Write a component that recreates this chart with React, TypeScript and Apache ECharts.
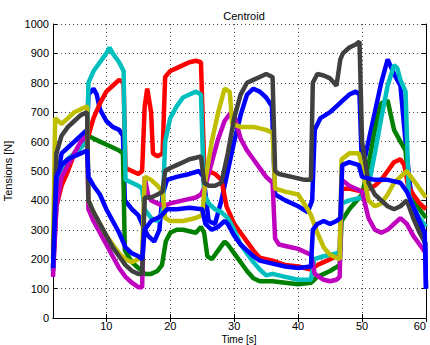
import React, { useEffect, useRef } from "react";
import * as echarts from "echarts";

type P = [number, number][];

const xTicks = [10, 20, 30, 40, 50, 60];
const xName = "Time [s]";

const blueA: P = [[1.66,160],[2.2,450],[3,560],[4,580],[5,600],[6,620],[7,640],[7.2,760],[8,780],[8.5,760],[9,710],[10,670],[11,650],[12,640],[12.6,620],[12.9,400],[14,370],[15,350],[15.6,320],[16.5,280],[17.5,260],[18.3,300],[18.8,420],[19.5,470],[21,480],[23,490],[24.5,500],[25.2,480],[26,330],[27,320],[28,400],[29,500],[30,600],[31,690],[32,760],[33,780],[34,770],[35,750],[35.9,720],[36.4,420],[38,400],[40,380],[41.5,360],[42.2,400],[42.6,640],[43.5,680],[45,700],[46,720],[47,740],[48,760],[49,770],[49.6,760],[50,500],[51,600],[52,700],[53,800],[54,880],[55,830],[56,790],[56.8,600],[57.5,450],[58.5,350],[59.5,280],[59.9,250],[60,100]];
const green: P = [[1.66,170],[2.2,420],[3,520],[4,540],[5,560],[6,580],[7,600],[7.2,620],[8,610],[9,600],[10,590],[11,580],[12,570],[12.6,560],[12.9,230],[14,190],[15,170],[15.6,160],[16,150],[17,150],[18,160],[18.7,180],[19.3,260],[20,290],[21,300],[22,300],[23,295],[24,290],[24.8,310],[25.3,290],[25.8,210],[26.5,200],[27.5,230],[28.5,260],[29,250],[30,220],[31,190],[32,160],[33,135],[34,125],[36,125],[38,120],[40,115],[42,120],[43,140],[45,160],[46.5,180],[46.8,330],[48,370],[50,420],[51,520],[52,640],[53,730],[54,740],[55,640],[56,600],[56.8,570],[57.3,430],[58,400],[59,370],[60,340]];
const red: P = [[1.66,180],[2.2,380],[3,450],[4,500],[5,560],[6,590],[7,610],[7.2,620],[8,680],[9,730],[10,770],[11,790],[12,810],[12.7,800],[13,510],[14,500],[15,490],[15.6,500],[16,720],[16.4,780],[17,700],[17.3,560],[18,550],[18.8,560],[19.2,820],[20,840],[21,850],[22,860],[23,870],[24,875],[24.8,870],[25.3,520],[26,500],[27,490],[28,470],[28.8,380],[30,320],[31,290],[32,260],[33,230],[34,205],[35,200],[36,195],[38,180],[40,175],[42,165],[43,180],[44,190],[45,200],[46,210],[46.5,230],[46.8,440],[48,440],[50,430],[51,440],[52,450],[53,470],[54,500],[55,530],[56,540],[56.6,520],[57.2,450],[58,420],[59,390],[60,370]];
const cyan: P = [[1.66,160],[2.2,400],[3,500],[4,540],[5,560],[6,580],[7,600],[7.2,800],[8,840],[9,870],[10,900],[10.5,920],[11,900],[12,870],[12.7,840],[13,470],[14,460],[15,450],[15.6,440],[16,370],[17,340],[18,330],[18.8,360],[19.2,600],[20,680],[21,720],[22,750],[23,760],[24,770],[24.8,760],[25.3,420],[26,390],[27,370],[28,360],[29,340],[30,300],[31,250],[32,220],[33,190],[34,165],[35,145],[36,150],[38,140],[40,130],[42,130],[42.5,200],[44,210],[46,220],[46.5,225],[46.8,390],[48,400],[50,410],[51,450],[52,560],[53,680],[54,790],[55,860],[55.5,850],[56,810],[56.8,770],[57.3,420],[58,380],[59,340],[60,310]];
const magenta: P = [[1.66,140],[2.2,380],[3,480],[4,520],[5,560],[6,600],[7,620],[7.2,370],[8,330],[9,290],[10,250],[11,210],[12,170],[13,140],[14,120],[15,105],[15.6,105],[16,480],[16.5,420],[17,400],[18,390],[19,380],[20,390],[22,400],[24,410],[24.8,420],[25.5,450],[26.5,530],[27.5,610],[28.5,670],[29.5,700],[30,690],[31,610],[32,570],[33,540],[34,510],[35,480],[36,460],[36.4,270],[37,250],[38,245],[40,235],[42,215],[42.6,150],[44,130],[45,125],[46,130],[46.5,140],[46.8,470],[48,450],[50,430],[51,340],[52,300],[53,290],[54,300],[55,320],[56,340],[57,320],[58,280],[59,250],[60,220]];
const yellow: P = [[1.66,230],[2,680],[3,660],[4,680],[5,700],[6,710],[7,720],[7.2,400],[8,360],[9,320],[10,280],[11,250],[12,220],[13,200],[14,190],[15,200],[15.6,210],[16,480],[17,470],[18,450],[18.8,430],[19.2,340],[20,330],[22,330],[24,340],[25,350],[25.5,470],[26.5,600],[27.5,700],[28.5,780],[29.3,770],[29.7,660],[31,650],[33,650],[35,640],[36,630],[36.4,440],[38,430],[40,420],[41.5,370],[42,350],[43,290],[44,240],[45,215],[46,205],[46.5,200],[46.8,540],[48,560],[49.5,560],[50,520],[51,400],[52,380],[53,390],[54,420],[55,460],[56,480],[57,500],[58,470],[59,440],[60,410]];
const gray: P = [[1.66,200],[2.2,560],[3,620],[4,650],[5,670],[6,690],[7,700],[7.2,400],[8,360],[9,320],[10,280],[11,240],[12,210],[13,180],[14,160],[15,150],[15.6,150],[16,410],[17,410],[18,420],[18.8,430],[19.2,500],[20,510],[21,520],[22,530],[23,540],[24,545],[24.8,550],[25.3,460],[26,450],[27,450],[28,460],[29,560],[30,680],[31,760],[32,800],[33,810],[34,820],[35,830],[36,820],[36.4,500],[37,490],[39,480],[41,470],[42,470],[42.3,800],[43,830],[44,825],[45,815],[46,790],[46.6,880],[47,900],[48,920],[49,930],[49.6,940],[50,600],[51,460],[52,420],[53,400],[54,380],[55,370],[56,380],[57,400],[58,340],[59,290],[60,250]];
const blueB: P = [[1.66,170],[2.2,480],[3,520],[4,540],[5,550],[6,560],[7,570],[7.2,480],[8,450],[9,420],[10,370],[11,330],[12,290],[13,240],[14,220],[15,210],[15.6,200],[16,300],[17,330],[18,340],[18.7,350],[19.5,370],[21,370],[23,375],[25,370],[25.5,320],[26.5,300],[27.5,310],[28.5,330],[29,320],[30,280],[31,250],[32,230],[33,210],[34,195],[36,185],[38,175],[40,170],[42,175],[42.3,300],[43,320],[44,330],[45,320],[46,330],[46.6,340],[46.9,520],[48,530],[49.5,520],[50,480],[52,470],[54,470],[56,460],[57,430],[58,380],[59,330],[59.8,290],[60,100]];

const seriesList: { name: string; color: string; data: P }[] = [
  { name: "Cable 1", color: "#0000FF", data: blueA },
  { name: "Cable 2", color: "#008000", data: green },
  { name: "Cable 3", color: "#FF0000", data: red },
  { name: "Cable 4", color: "#00BFBF", data: cyan },
  { name: "Cable 5", color: "#BF00BF", data: magenta },
  { name: "Cable 6", color: "#BFBF00", data: yellow },
  { name: "Cable 7", color: "#404040", data: gray },
  { name: "Cable 8", color: "#0000FF", data: blueB },
];

const FONT = "'Liberation Sans', Arial, sans-serif";
const X_MIN = 1.66;
const X_MAX = 60;

export default function App() {
  const ref = useRef<HTMLDivElement>(null);
  useEffect(() => {
    if (!ref.current) return;
    const chart = echarts.init(ref.current, undefined, { renderer: "svg" });
    const splitLine = { show: true, lineStyle: { color: "#000", type: [1, 3] as any, width: 1, opacity: 0.7 } };
    const axisLine = { show: true, lineStyle: { color: "#000", width: 1 } };
    const axisTick = { show: true, inside: true, length: 4, lineStyle: { color: "#000" } };
    const xTick = { ...axisTick, customValues: xTicks };
    chart.setOption({
      animation: false,
      backgroundColor: "#fff",
      title: {
        text: "Centroid",
        left: 239,
        textAlign: "center",
        top: 5,
        textStyle: { fontFamily: FONT, fontSize: 11, fontWeight: "normal", color: "#000" },
      },
      graphic: [
        {
          type: "text",
          x: 239,
          y: 334,
          style: { text: xName, fontFamily: FONT, fontSize: 10, fill: "#000", textAlign: "center", textVerticalAlign: "top" },
        },
      ],
      grid: { left: 53, right: 4, top: 24, bottom: 27, containLabel: false, outerBoundsMode: "none" },
      xAxis: [
        {
          type: "value",
          min: X_MIN,
          max: X_MAX,
          axisLine,
          axisTick: xTick,
          splitLine,
          axisLabel: {
            customValues: xTicks,
            margin: 2,
            alignMaxLabel: "right",
            fontFamily: FONT,
            fontSize: 11,
            color: "#000",
            formatter: (v: number) => String(v),
          },
        },
        {
          type: "value",
          position: "top",
          min: X_MIN,
          max: X_MAX,
          axisLine,
          axisTick: xTick,
          splitLine: { show: false },
          axisLabel: { show: false, customValues: xTicks },
        },
      ],
      yAxis: [
        {
          type: "value",
          min: 0,
          max: 1000,
          interval: 100,
          name: "Tensions [N]",
          nameLocation: "middle",
          nameGap: 36,
          nameTextStyle: { fontFamily: FONT, fontSize: 11, color: "#000" },
          axisLine,
          axisTick,
          splitLine,
          axisLabel: { margin: 4, fontFamily: FONT, fontSize: 11, color: "#000", formatter: (v: number) => String(v) },
        },
        {
          type: "value",
          position: "right",
          min: 0,
          max: 1000,
          interval: 100,
          axisLine,
          axisTick,
          splitLine: { show: false },
          axisLabel: { show: false },
        },
      ],
      series: seriesList.map((s) => ({
        name: s.name,
        type: "line",
        data: s.data,
        showSymbol: false,
        symbol: "none",
        xAxisIndex: 0,
        yAxisIndex: 0,
        lineStyle: { color: s.color, width: 4.5, join: "bevel" },
        itemStyle: { color: s.color },
        clip: true,
      })),
    });
    return () => chart.dispose();
  }, []);
  return <div ref={ref} style={{ position: "absolute", left: 0, top: 0, width: 430, height: 345 }} />;
}
